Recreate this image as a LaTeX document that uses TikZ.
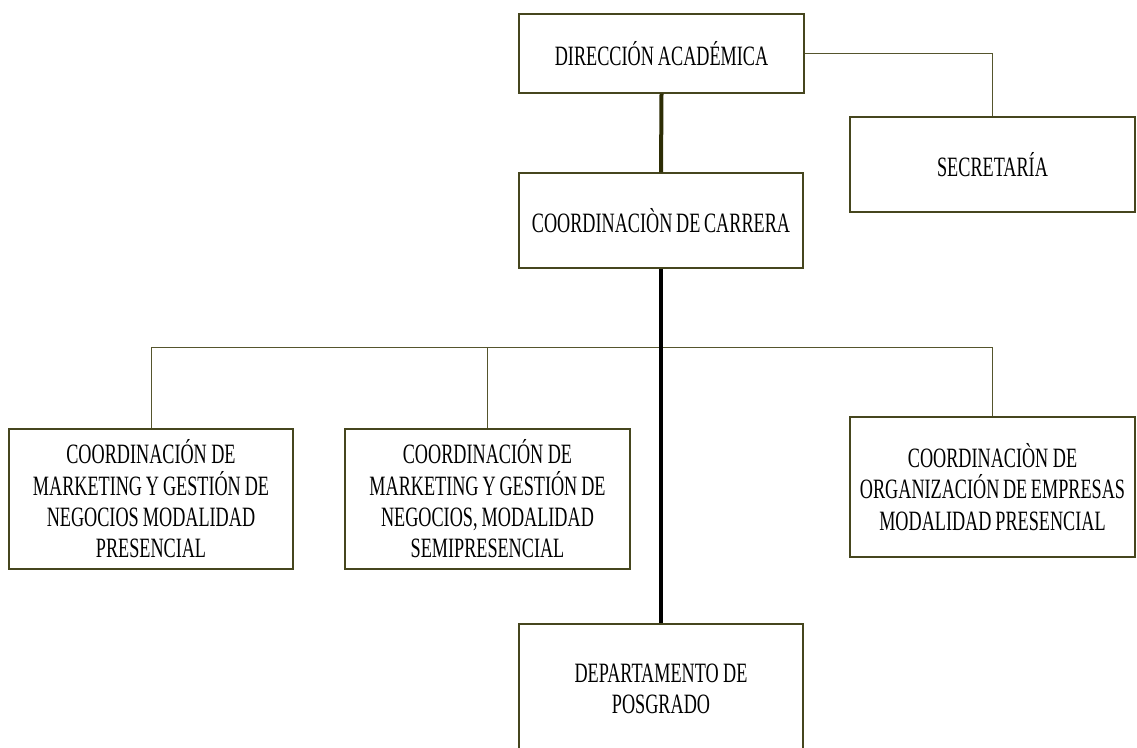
\documentclass[tikz,border=0pt]{standalone}
\usepackage{fontspec}
\setmainfont{Liberation Serif}[FakeStretch=0.65]
\definecolor{boxline}{RGB}{70,70,30}
\definecolor{thinline}{RGB}{85,85,45}
\definecolor{darkolive}{RGB}{45,45,5}
\newcommand\orgfont{\fontsize{28}{31.3}\selectfont}
\begin{document}
\begin{tikzpicture}[x=1pt,y=-1pt,
  orgbox/.style={draw=boxline, line width=1.2pt, fill=white, align=center, inner sep=0pt,
    font=\orgfont, text width=280pt,
    execute at begin node={\spaceskip=3.5pt plus 1pt minus 0.5pt\relax}},
  thin/.style={draw=thinline, line width=1pt},
  thick/.style={line width=4pt}]
\useasboundingbox (0,0) rectangle (1137,747);
\clip (0,0) rectangle (1137,747);

\node[orgbox, minimum width=285pt, minimum height=79pt] (dir) at (661.5,53.5) {DIRECCIÓN ACADÉMICA};
\node[orgbox, minimum width=285pt, minimum height=95pt] (sec) at (992.5,164.5) {SECRETARÍA};
\node[orgbox, minimum width=284pt, minimum height=95pt] (carr) at (661,220.5) {COORDINACIÒN DE CARRERA};
\node[orgbox, minimum width=284pt, minimum height=140pt] (m1) at (151,499) {COORDINACIÓN DE\\MARKETING Y GESTIÓN DE\\NEGOCIOS MODALIDAD\\PRESENCIAL};
\node[orgbox, minimum width=285pt, minimum height=140pt] (m2) at (487.5,499) {COORDINACIÓN DE\\MARKETING Y GESTIÓN DE\\NEGOCIOS, MODALIDAD\\SEMIPRESENCIAL};
\node[orgbox, minimum width=285pt, minimum height=140pt] (org) at (992.5,487) {COORDINACIÒN DE\\ORGANIZACIÓN DE EMPRESAS\\MODALIDAD PRESENCIAL};
\node[orgbox, minimum width=284pt, minimum height=130pt] (dep) at (661,689) {DEPARTAMENTO DE\\POSGRADO};

\coordinate (bus) at (0,347);
\draw[thick, draw=darkolive] (dir.south) -- (carr.north);
\draw[thin] (dir.east) -| (sec.north);
\draw[thin] (m1.north) |- (org.north |- bus) -- (org.north);
\draw[thin] (m2.north) -- (m2.north |- bus);
\draw[thick, draw=black] (carr.south) -- (dep.north);
\end{tikzpicture}
\end{document}
